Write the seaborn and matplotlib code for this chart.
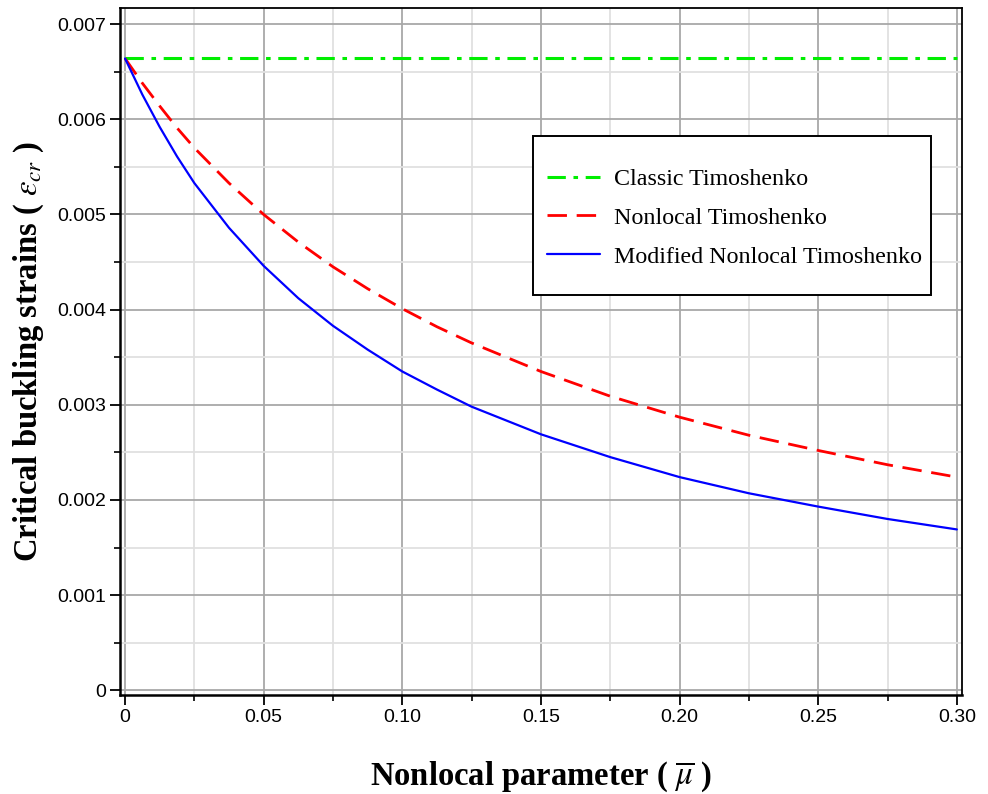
import numpy as np
import pandas as pd
import matplotlib
matplotlib.use("Agg")
import matplotlib.pyplot as plt
import seaborn as sns
from matplotlib.patches import Rectangle
from matplotlib.ticker import MultipleLocator, FixedLocator, FixedFormatter

sns.set_theme(style="white")
plt.rcParams['mathtext.fontset'] = 'stix'
plt.rcParams['text.color'] = 'black'
plt.rcParams['axes.labelcolor'] = 'black'

# ---- data ----
mu = [0, 0.00625, 0.0125, 0.01875, 0.025, 0.0375, 0.05, 0.0625, 0.075, 0.0875,
      0.10, 0.1125, 0.125, 0.15, 0.175, 0.20, 0.225, 0.25, 0.275, 0.30]
classic = [0.00664] * len(mu)
nonlocal_t = [0.00664, 0.00638, 0.00614, 0.00591, 0.00570, 0.00533, 0.00500,
              0.00471, 0.00445, 0.00422, 0.00401, 0.00382, 0.00365, 0.00335,
              0.00309, 0.00287, 0.00268, 0.00252, 0.00237, 0.00224]
modified = [0.00664, 0.00626, 0.00592, 0.00561, 0.00533, 0.00486, 0.00446,
            0.00412, 0.00383, 0.00358, 0.00335, 0.00316, 0.00298, 0.00269,
            0.00245, 0.00224, 0.00207, 0.00193, 0.00180, 0.00169]
series_names = ["Classic Timoshenko", "Nonlocal Timoshenko",
                "Modified Nonlocal Timoshenko"]
x_ticks = [0, 0.05, 0.10, 0.15, 0.20, 0.25, 0.30]
x_labels = ["0", "0.05", "0.10", "0.15", "0.20", "0.25", "0.30"]
y_ticks = [0, 0.001, 0.002, 0.003, 0.004, 0.005, 0.006, 0.007]
y_labels = ["0", "0.001", "0.002", "0.003", "0.004", "0.005", "0.006", "0.007"]

fig = plt.figure(figsize=(9.88, 7.94), dpi=100)
ax = fig.add_axes([0.1215, 0.1247, 0.852, 0.8652])

styles = [
    dict(color="#00ee00", lw=2.2, dashes=[6, 2.5, 1.5, 2.5]),
    dict(color="#ff0000", lw=2.0, dashes=[7, 3.5]),
    dict(color="#0000ff", lw=1.6, dashes=None),
]
for name, vals, st in zip(series_names, [classic, nonlocal_t, modified], styles):
    sns.lineplot(x=mu, y=vals, ax=ax, color=st["color"], lw=st["lw"],
                 label=name, zorder=3)
    line = ax.get_lines()[-1]
    if st["dashes"] is not None:
        line.set_dashes(st["dashes"])

ax.set_xlim(-0.0018, 0.3018)
ax.set_ylim(-0.00005, 0.00717)

tick_font = ['Liberation Sans Narrow', 'Liberation Sans']
ax.xaxis.set_major_locator(FixedLocator(x_ticks))
ax.xaxis.set_major_formatter(FixedFormatter(x_labels))
ax.yaxis.set_major_locator(FixedLocator(y_ticks))
ax.yaxis.set_major_formatter(FixedFormatter(y_labels))
ax.xaxis.set_minor_locator(MultipleLocator(0.025))
ax.yaxis.set_minor_locator(MultipleLocator(0.0005))
for lab in ax.get_xticklabels() + ax.get_yticklabels():
    lab.set_family(tick_font)
    lab.set_fontsize(14)
    lab.set_color("black")

ax.tick_params(which='major', direction='out', length=7, width=1.3,
               color='black', left=True, bottom=True, pad=3)
ax.tick_params(which='minor', direction='out', length=4, width=1.2,
               color='black', left=True, bottom=True)

ax.grid(which='major', color='#a8a8a8', lw=1.3, zorder=0)
ax.grid(which='minor', color='#e0e0e0', lw=1.3, zorder=0)
ax.set_axisbelow(True)

for side in ['left', 'bottom', 'top', 'right']:
    ax.spines[side].set_visible(True)
    ax.spines[side].set_color('black')
ax.spines['left'].set_linewidth(1.8)
ax.spines['bottom'].set_linewidth(1.8)
ax.spines['top'].set_linewidth(1.3)
ax.spines['right'].set_linewidth(1.3)

label_font = dict(family='Liberation Serif', weight='bold', size=23.5, color='black')
ax.set_xlabel(r"Nonlocal parameter ( $\overline{\mu}$ )", labelpad=24, **label_font)
ax.set_ylabel(r"Critical buckling strains ( $\varepsilon_{cr}$ )", labelpad=8, **label_font)

# legend frame drawn as a rectangle, entries placed inside it
frame = Rectangle((0.4905, 0.5822), 0.4727, 0.2315, transform=ax.transAxes,
                  facecolor='white', edgecolor='black', lw=1.4, zorder=4)
ax.add_patch(frame)
leg = ax.legend(loc='upper left', bbox_to_anchor=(0.5071, 0.7665),
                borderaxespad=0, borderpad=0, frameon=False,
                prop=dict(family='Liberation Serif', size=17.3),
                handlelength=2.2, labelspacing=0.70,
                handletextpad=0.6)
leg.set_zorder(5)
for t in leg.get_texts():
    t.set_color('black')

fig.savefig("out.png", dpi=100)
